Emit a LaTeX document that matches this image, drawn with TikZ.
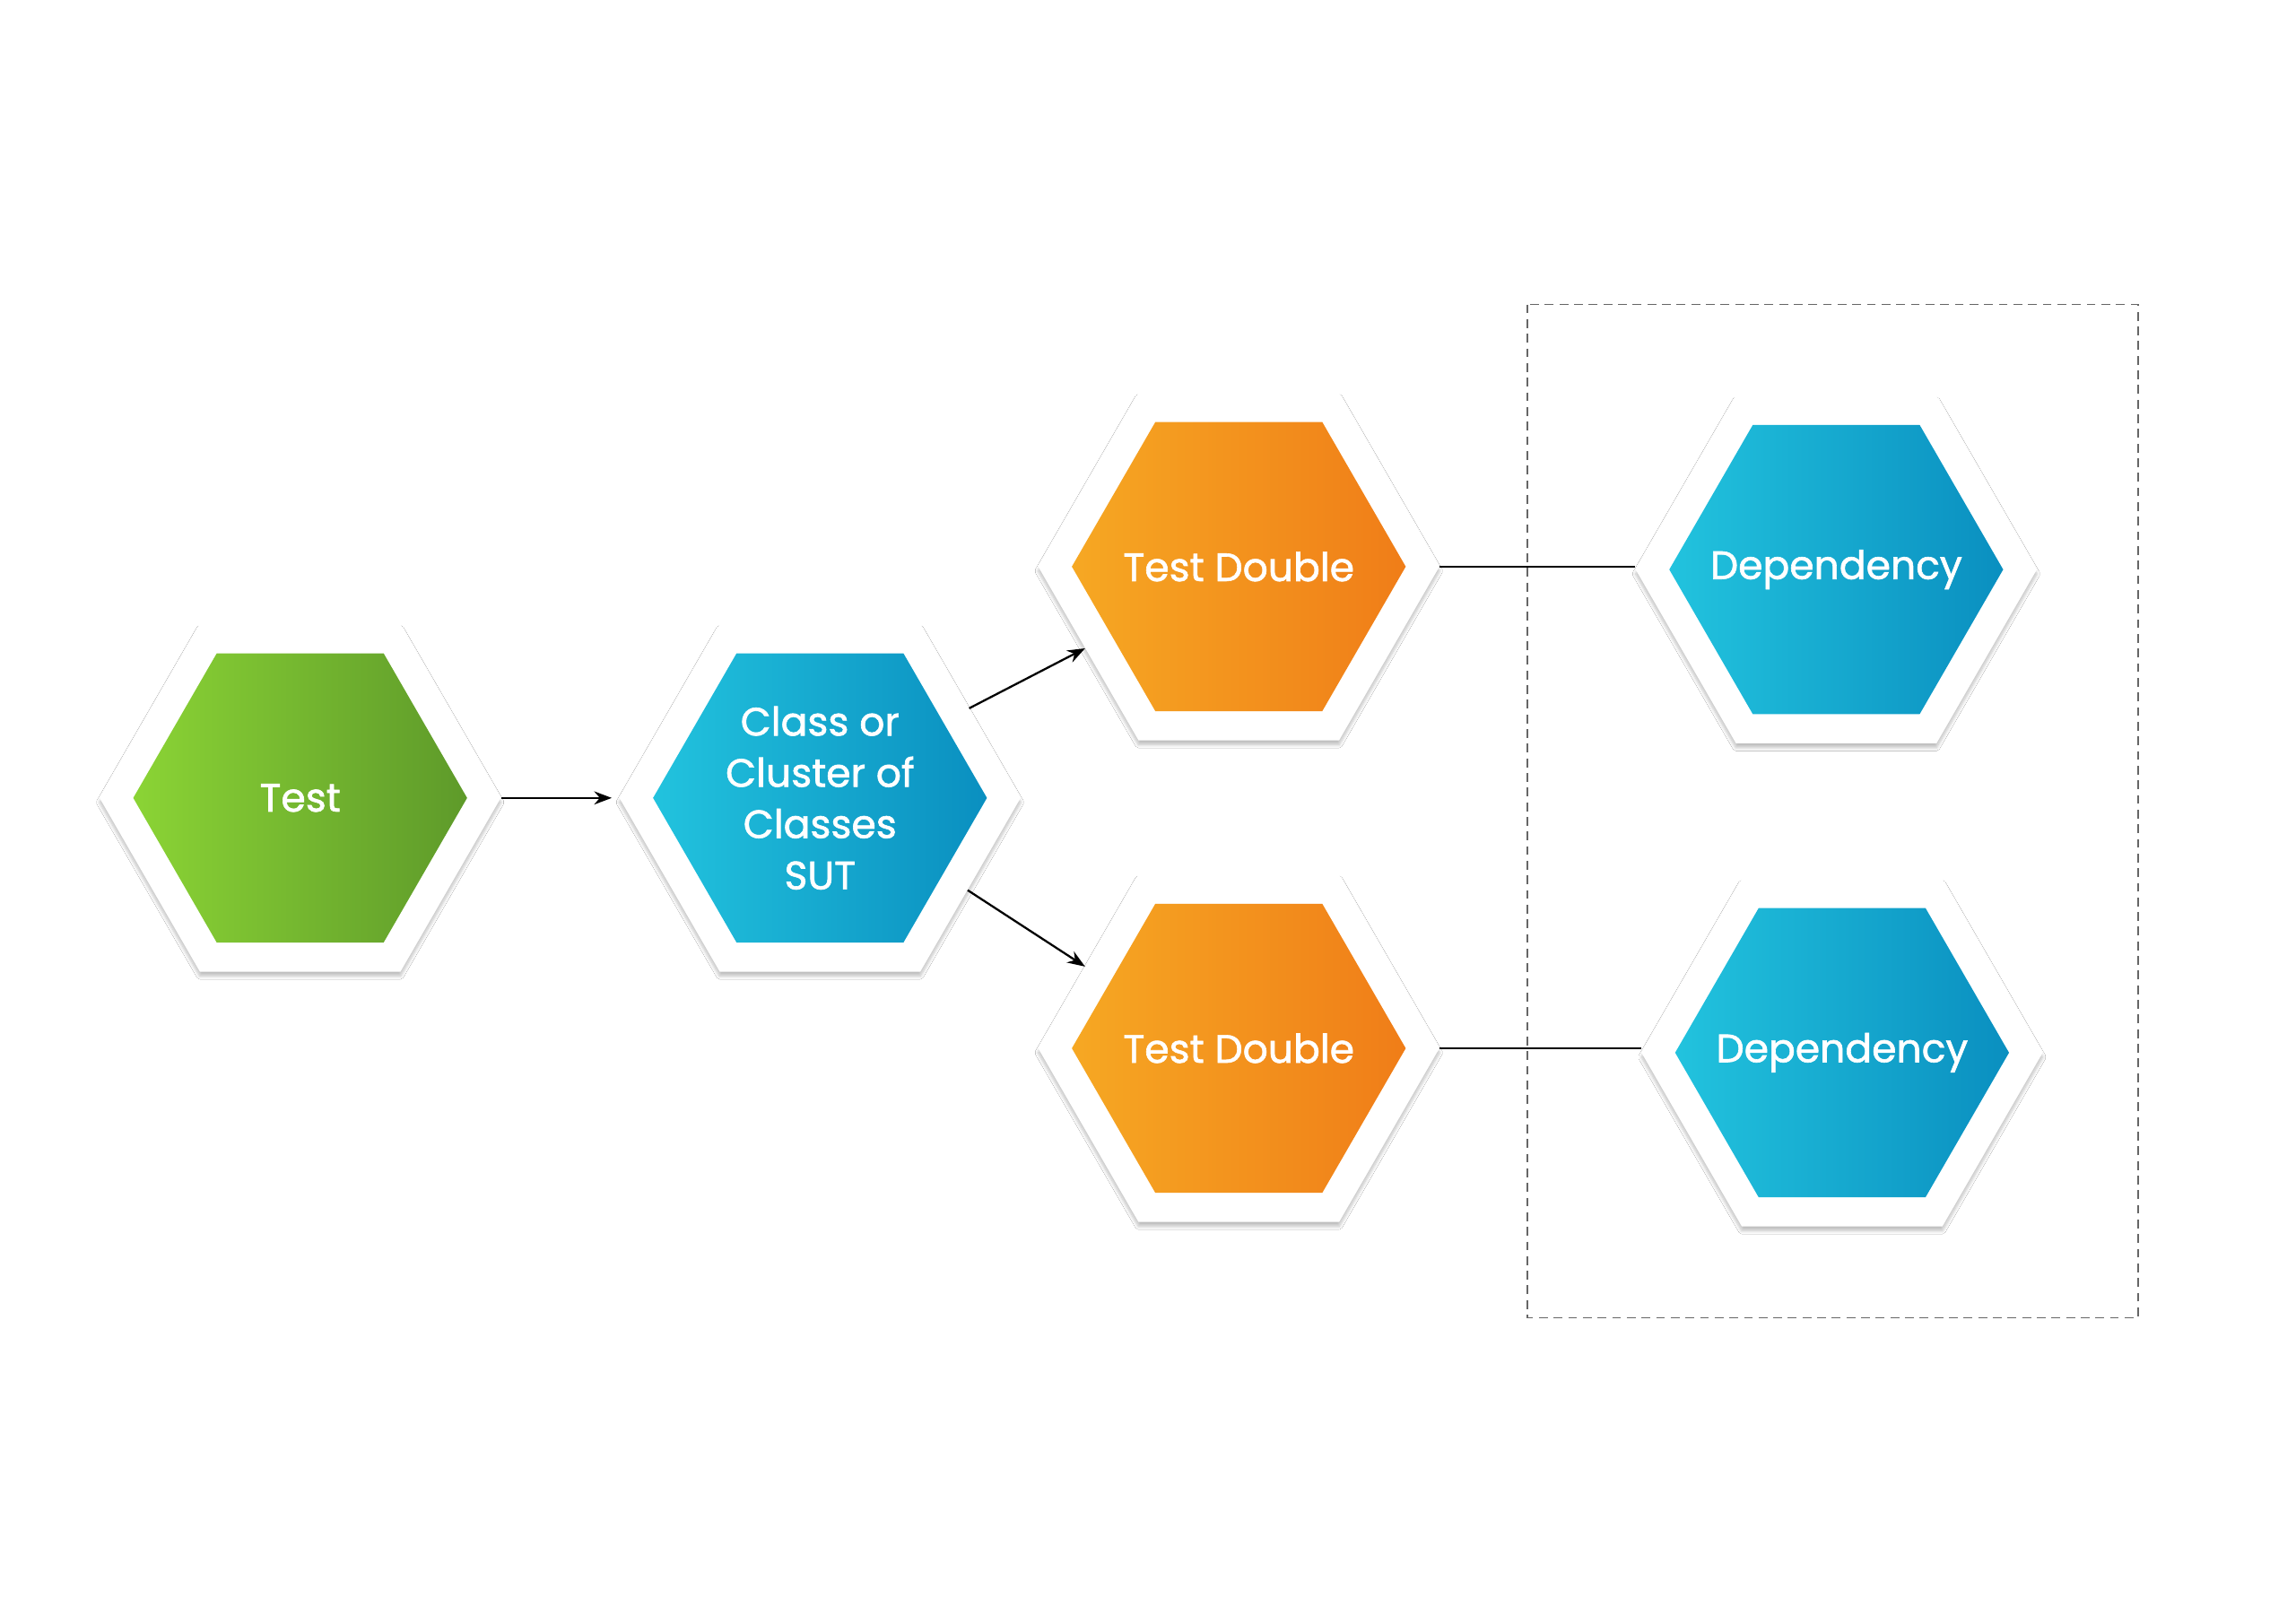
\documentclass[tikz,border=0pt]{standalone}
\usepackage{fontspec}
\setmainfont{Poppins}
\newfontfamily\lblfont[FakeBold=1.4]{Poppins}
\usetikzlibrary{shapes.geometric,shadows.blur,arrows.meta}
\definecolor{gA}{HTML}{8BD435}\definecolor{gB}{HTML}{5E9A2A}
\definecolor{bA}{HTML}{22C3DE}\definecolor{bB}{HTML}{0A8FC0}
\definecolor{oA}{HTML}{F6A823}\definecolor{oB}{HTML}{F07D18}
\tikzset{
 outerhex/.style={regular polygon,regular polygon sides=6,minimum size=274pt,inner sep=0,fill=white,blur shadow={shadow xshift=0pt,shadow yshift=-3pt,shadow blur steps=8,shadow opacity=25}},
 innerhex/.style={regular polygon,regular polygon sides=6,minimum size=228pt,inner sep=0},
 lbl/.style={text=white,font=\fontsize{27}{35}\selectfont\lblfont,align=center},
 conn/.style={line width=1.4pt,black},
 arr/.style={conn,-{Stealth[length=12pt,width=9pt]}}
}
\newcommand{\hexa}[5]{%
 \node[outerhex] (#1) at (#2) {};
 \node[innerhex,left color=#3,right color=#4] at (#2) {};
 \node[lbl] at (#2) {#5};}
\begin{document}
\begin{tikzpicture}[x=1pt,y=-1pt]
\useasboundingbox[fill=white] (0,0) rectangle (1568,1109);
\hexa{test}{205,545}{gA}{gB}{Test}
\hexa{sut}{560,545}{bA}{bB}{Class or\\Cluster of\\Classes\\SUT}
\hexa{tdA}{846,387}{oA}{oB}{Test Double}
\hexa{tdB}{846,716}{oA}{oB}{Test Double}
\hexa{depA}{1254,389}{bA}{bB}{Dependency}
\hexa{depB}{1258,719}{bA}{bB}{Dependency}
\draw[arr,shorten >=5pt] (test.east) -- (sut.west);
\draw[arr] (sut.31) -- (tdA.208);
\draw[arr] (sut.-32) -- (tdB.152);
\draw[conn] (tdA.east) -- (tdA.east -| depA.west);
\draw[conn] (tdB.east) -- (tdB.east -| depB.west);
\draw[gray!80!black,line width=1pt,dash pattern=on 6pt off 4pt] (1043,208) rectangle (1460,900);
\end{tikzpicture}
\end{document}
